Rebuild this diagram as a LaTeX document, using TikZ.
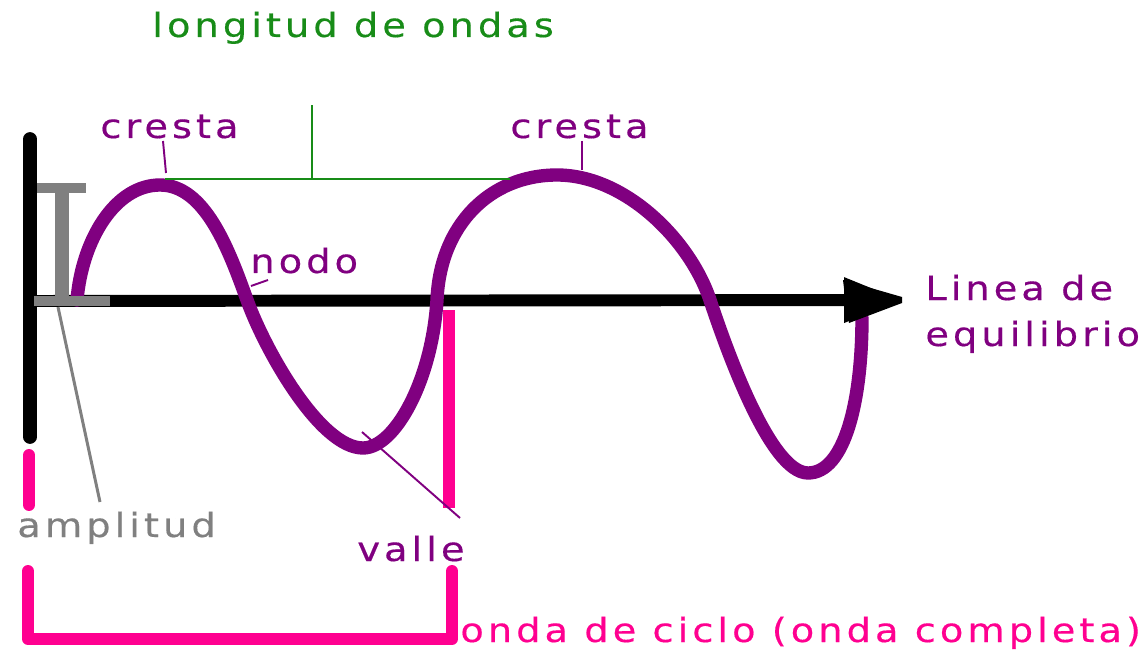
\documentclass[tikz,border=0pt]{standalone}
\usepackage{fontspec}
\usetikzlibrary{arrows.meta}
\newfontfamily\lblfont[LetterSpace=12,FakeStretch=1.15,FakeBold=0.4]{DejaVu Sans}
\definecolor{wavepurple}{RGB}{128,0,128}
\definecolor{cyclepink}{RGB}{255,0,144}
\definecolor{lengthgreen}{RGB}{24,140,24}
\definecolor{ampgray}{RGB}{128,128,128}
\tikzset{
  lbl/.style={font=\lblfont\fontsize{19pt}{23pt}\selectfont, inner sep=0pt, anchor=base west},
  thickbar/.style={line width=7.8pt},
  wavestyle/.style={line width=7.6pt, wavepurple, line cap=round, line join=round},
  pinkbar/.style={line width=6.8pt, cyclepink},
  graybar/.style={line width=5.6pt, ampgray},
  leader/.style={line width=1.1pt},
}
\begin{document}
\begin{tikzpicture}[x=0.02cm, y=-0.02cm]
\useasboundingbox (0,0) rectangle (1147,652);
% coordinates
\coordinate (barT) at (30,139);
\coordinate (barB) at (30,437);
\coordinate (axL) at (30,301);
\coordinate (axR) at (902,300);
% black wall and axis
\draw[thickbar, line cap=round] (barT) -- (barB);
\draw[line width=6.8pt, -{Triangle[length=33pt,width=24pt]}] (axL) -- (axR);
% wave
\coordinate (w0) at (77,300);
\coordinate (w1) at (160,185);
\coordinate (w2) at (247,300);
\coordinate (w3) at (363,448);
\coordinate (w4) at (437,300);
\coordinate (w5) at (557,175);
\coordinate (w6) at (710,300);
\coordinate (w7) at (808,473);
\coordinate (w8) at (862,318);
\draw[wavestyle] (w0) .. controls (82,240) and (115,185) .. (w1)
  .. controls (205,185) and (229,250) .. (w2)
  .. controls (265,350) and (320,448) .. (w3)
  .. controls (395,448) and (432,380) .. (w4)
  .. controls (440,225) and (490,175) .. (w5)
  .. controls (625,175) and (690,240) .. (w6)
  .. controls (726,348) and (770,473) .. (w7)
  .. controls (845,473) and (862,400) .. (w8);
% arrow head on top
\fill (843,280) -- (902,297) -- (902,303) -- (849,323) -- (846,305) -- cycle;
% pink pieces
\coordinate (pkA) at (29,455);
\coordinate (pkB) at (29,505);
\draw[pinkbar, line cap=round] (pkA) -- (pkB);
\coordinate (pkC) at (449,310);
\coordinate (pkD) at (449,508);
\draw[pinkbar] (pkC) -- (pkD);
\coordinate (brL) at (28,571);
\coordinate (brR) at (452,571);
\draw[pinkbar, line cap=round, line join=round] (brL) -- (28,639) -- (452,639) -- (brR);
% gray amplitude I-beam
\coordinate (amT) at (62,188);
\coordinate (amB) at (62,301);
\draw[ampgray, line width=8pt] (amT) -- (amB);
\draw[graybar] (37,188) -- (86,188);
\draw[graybar] (34,301) -- (110,301);
% green wavelength bracket
\coordinate (gL) at (165,179);
\coordinate (gR) at (510,179);
\coordinate (gM) at (312,179);
\coordinate (gT) at (312,105);
\draw[lengthgreen, line width=1.6pt] (gL) -- (gR);
\draw[lengthgreen, line width=1.6pt] (gM) -- (gT);
% labels
\node[lbl, text=lengthgreen] (tlong) at (152,37) {longitud de ondas};
\node[lbl, text=wavepurple] (tcr1) at (100,138) {cresta};
\node[lbl, text=wavepurple] (tcr2) at (510,138) {cresta};
\node[lbl, text=wavepurple] (tnodo) at (250,273) {nodo};
\node[lbl, text=wavepurple] (tlin1) at (925,300) {Linea de};
\node[lbl, text=wavepurple] (tlin2) at (925,346) {equilibrio};
\node[lbl, text=ampgray] (tamp) at (17,537) {amplitud};
\node[lbl, text=wavepurple] (tvalle) at (357,561) {valle};
\node[lbl, text=cyclepink] (tonda) at (460,642) {onda de ciclo (onda completa)};
% leaders
\coordinate (c1a) at (163,141);
\coordinate (c1b) at (166,173);
\draw[wavepurple, leader] (c1a) -- (c1b);
\coordinate (c2a) at (582,141);
\coordinate (c2b) at (582,170);
\draw[wavepurple, leader] (c2a) -- (c2b);
\coordinate (ndA) at (268,280);
\coordinate (ndB) at (251,286);
\draw[wavepurple, leader] (ndA) -- (ndB);
\coordinate (vaA) at (362,432);
\coordinate (vaB) at (460,518);
\draw[wavepurple, leader] (vaA) -- (vaB);
\coordinate (amA) at (58,307);
\coordinate (amC) at (100,502);
\draw[ampgray, line width=1.7pt] (amA) -- (amC);
\end{tikzpicture}
\end{document}
